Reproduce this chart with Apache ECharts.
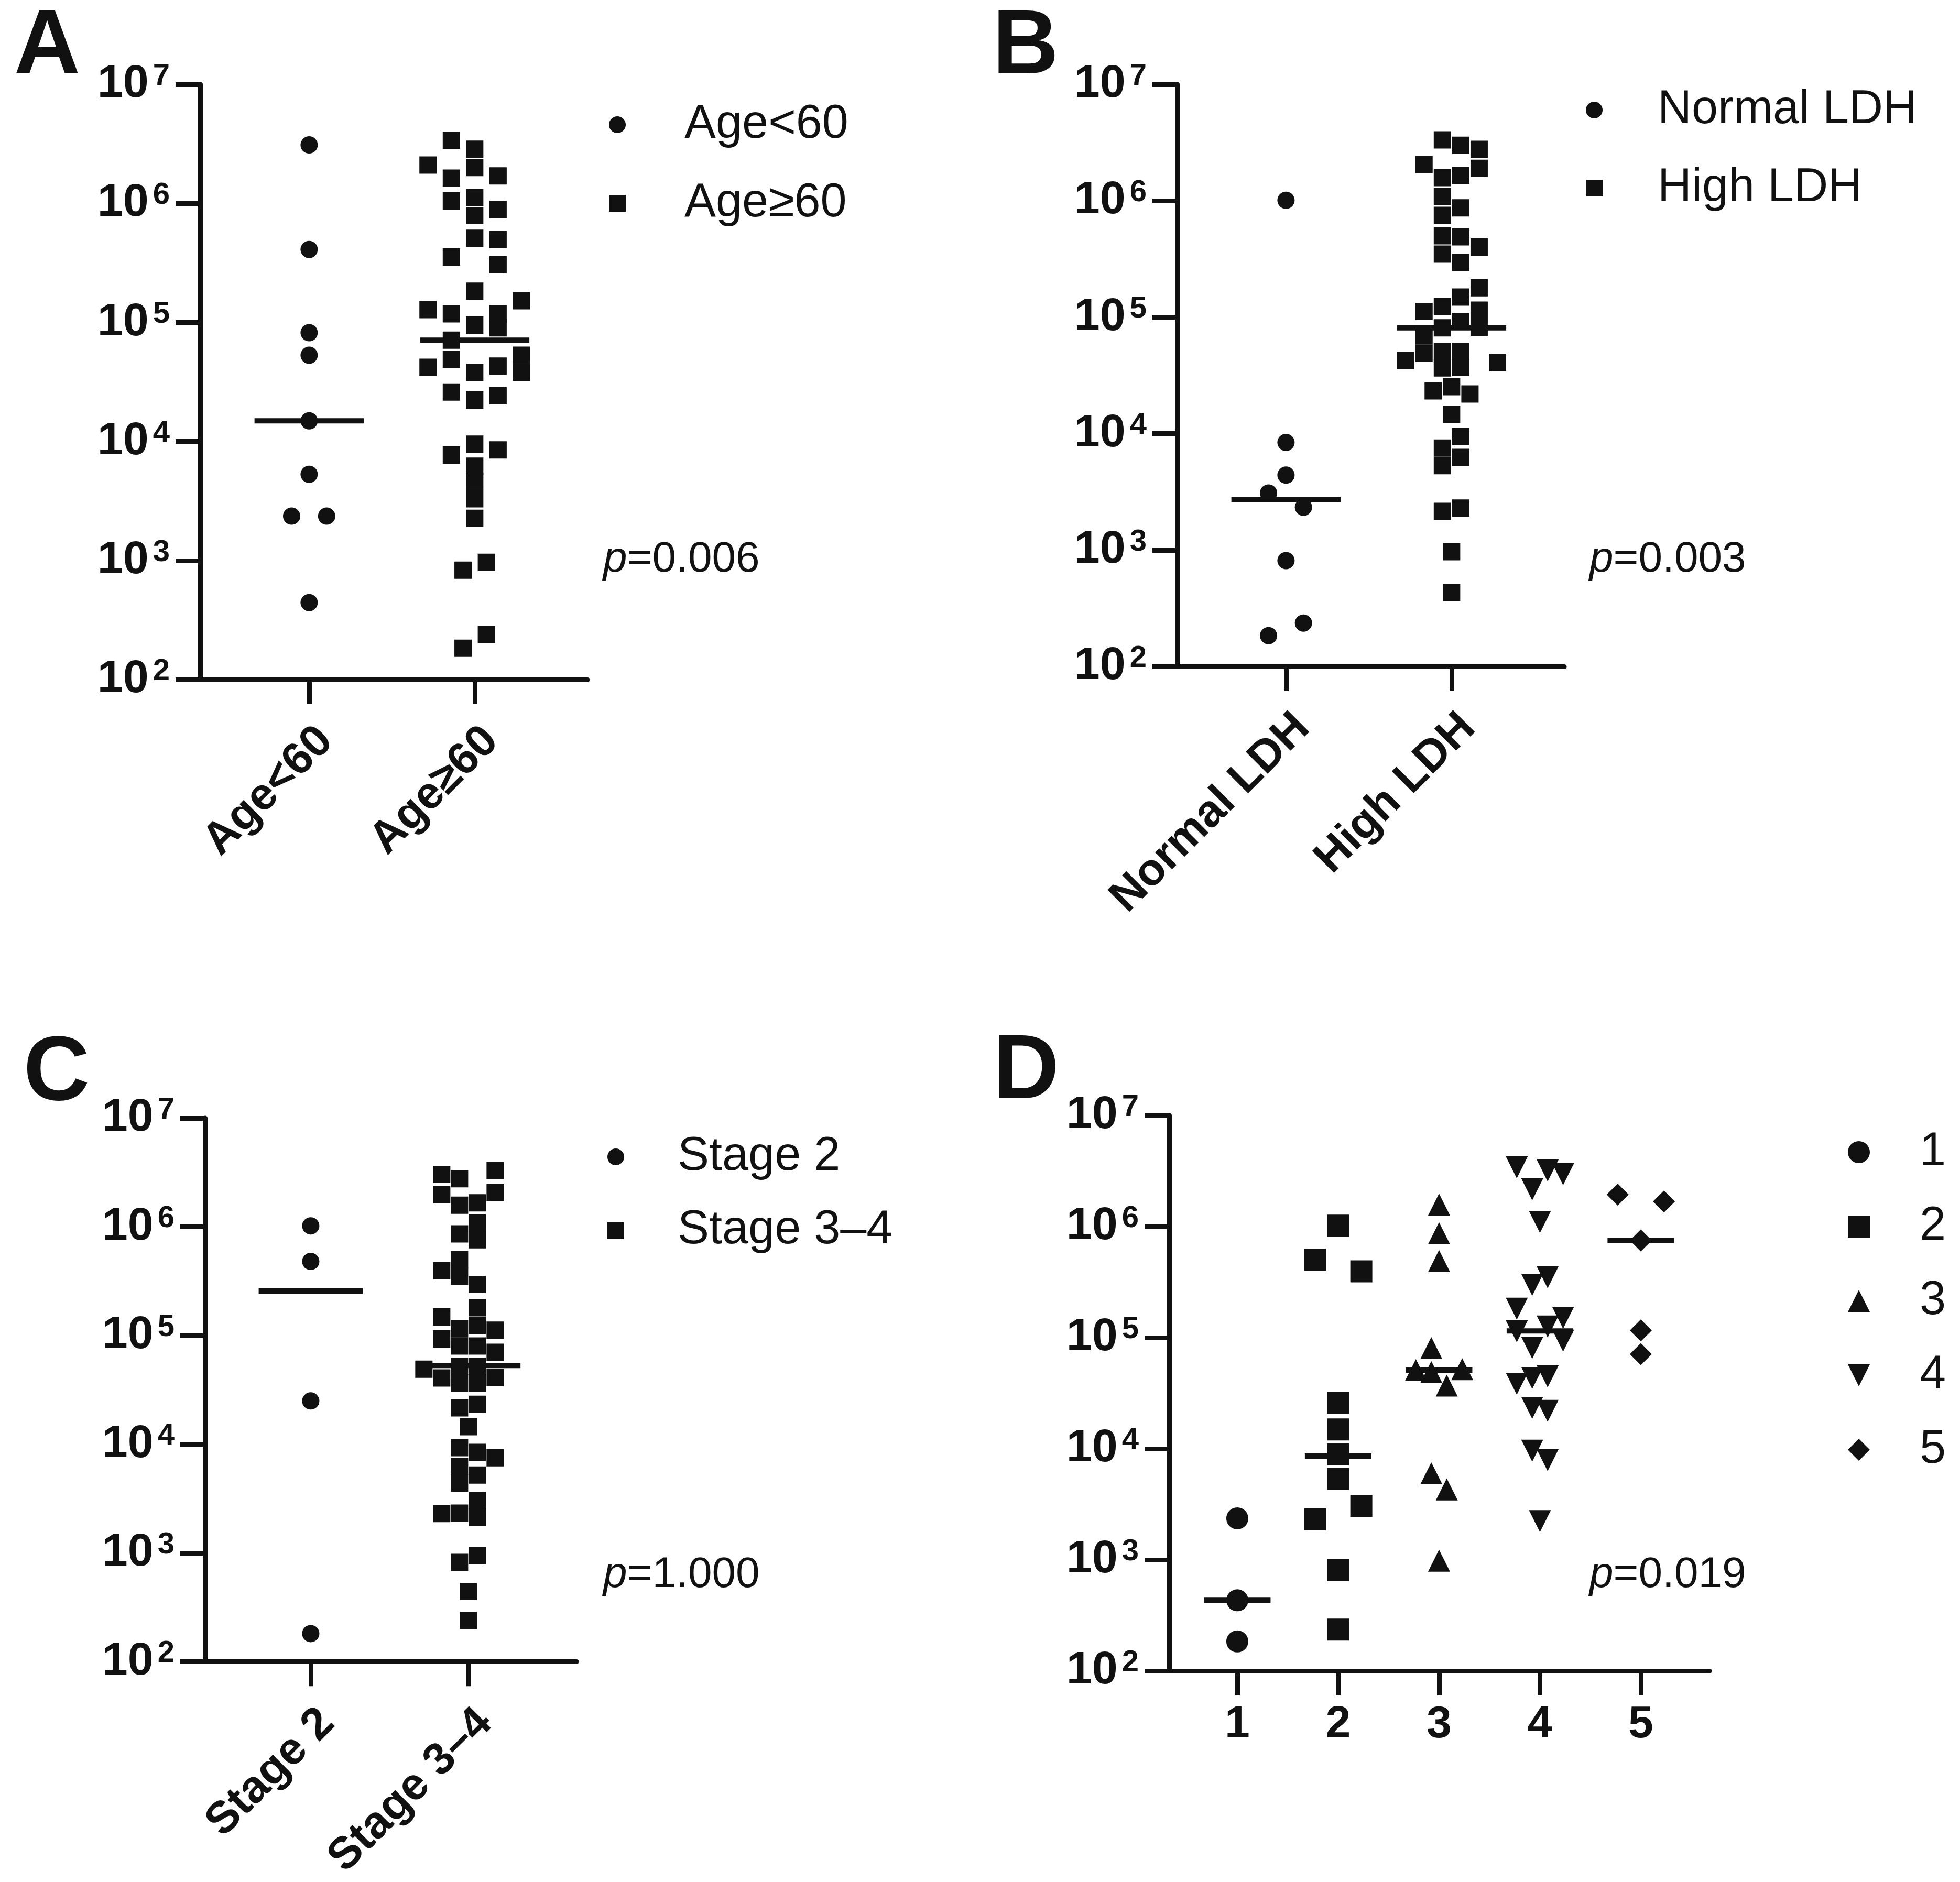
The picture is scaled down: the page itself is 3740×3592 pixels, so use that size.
<!DOCTYPE html>
<html>
<head>
<meta charset="utf-8">
<title>Scatter dot plots</title>
<script src="https://cdn.jsdelivr.net/npm/echarts@6.0.0/dist/echarts.min.js"></script>
<style>
  html, body { margin: 0; padding: 0; background: #fff; }
  #main { width: 3740px; height: 3592px; }
</style>
</head>
<body>
<div id="main"></div>
<script>
// ---- data ----
// lanes = horizontal slot of each dot inside its column (0 = centre)

// A: age
var ageCats = ['Age<60', 'Age≥60'];
var ageLowValues = [3.1e6, 4.1e5, 8.2e4, 5.3e4, 1.49e4, 5.3e3, 2.36e3, 2.36e3, 443];
var ageLowLanes  = [0, 0, 0, 0, 0, 0, -0.75, 0.75, 0];
var ageHighValues = [3.4e6, 2.85e6, 2.1e6, 2.0e6, 1.63e6, 1.7e6, 1.05e6, 1.12e6, 7.9e5, 8.9e5,
  5.1e5, 4.98e5, 3.55e5, 3.05e5, 1.83e5, 1.52e5, 1.28e5, 1.18e5, 1.18e5, 9.5e4,
  9.0e4, 7.1e4, 4.9e4, 5.3e4, 4.2e4, 4.3e4, 3.8e4, 3.8e4, 2.6e4, 2.23e4,
  2.42e4, 9.5e3, 8.5e3, 7.7e3, 6.2e3, 4.6e3, 3.3e3, 2.26e3, 966, 830, 239, 183];
var ageHighLanes = [-1, 0, -2, 0, -1, 1, -1, 0, 0, 1,
  0, 1, -1, 1, 0, 2, -2, -1, 1, 0,
  1, -1, -1, 2, -2, 1, 2, 0, -1, 0,
  1, 0, 1, -1, 0, 0, 0, 0, 0.5, -0.5, 0.5, -0.5];
var ageMedians = [1.49e4, 7.1e4];

// B: LDH
var ldhCats = ['Normal LDH', 'High LDH'];
var ldhNormalValues = [1.01e6, 8.4e3, 4.4e3, 3.09e3, 2.33e3, 811, 236, 184];
var ldhNormalLanes  = [0, 0, 0, -0.95, 0.95, 0, 0.95, -0.95];
var ldhHighValues = [3.33e6, 3.0e6, 2.77e6, 2.05e6, 1.9e6, 1.65e6, 1.58e6, 1.09e6, 8.7e5, 7.5e5,
  5.0e5, 4.9e5, 4.0e5, 3.48e5, 2.95e5, 1.79e5, 1.49e5, 1.24e5, 1.12e5, 1.15e5,
  8.2e4, 9.2e4, 8.1e4, 6.9e4, 4.9e4, 4.25e4, 4.1e4, 5.1e4, 3.67e4, 5.1e4,
  3.7e4, 2.33e4, 2.53e4, 2.19e4, 1.46e4, 9.4e3, 7.5e3, 6.25e3, 5.3e3, 2.29e3,
  2.15e3, 968, 431];
var ldhHighLanes = [-0.5, 0.5, 1.5, -1.5, 1.5, 0.5, -0.5, -0.5, 0.5, -0.5,
  -0.5, 0.5, 1.5, -0.5, 0.5, 1.5, 0.5, -0.5, -1.5, 1.5,
  1.5, 0.5, -0.5, -1.5, -1.5, -2.5, 2.5, -0.5, -0.5, 0.5,
  0.5, -1, 0, 1, 0, 0.5, -0.5, 0.5, -0.5, 0.5,
  -0.5, 0, 0];
var ldhMedians = [2.73e3, 8.1e4];

// C: stage
var stageCats = ['Stage 2', 'Stage 3–4'];
var stage2Values = [1.02e6, 4.8e5, 2.5e4, 181];
var stage2Lanes  = [0, 0, 0, 0];
var stage34Values = [3.03e6, 2.77e6, 3.3e6, 1.97e6, 2.08e6, 1.58e6, 1.66e6, 1.09e6, 8.6e5, 7.6e5,
  5.0e5, 3.95e5, 3.5e5, 2.95e5, 1.8e5, 1.48e5, 1.24e5, 1.15e5, 1.12e5, 9.3e4,
  8.0e4, 8.0e4, 7.0e4, 4.9e4, 5.2e4, 5.2e4, 4.07e4, 4.1e4, 3.66e4, 3.66e4,
  2.16e4, 2.33e4, 1.45e4, 9.3e3, 8.4e3, 7.5e3, 6.25e3, 5.2e3, 4.4e3, 3.04e3,
  2.3e3, 2.32e3, 2.13e3, 950, 817, 442, 239];
var stage34Lanes = [-1.5, -0.5, 1.5, -1.5, 1.5, -0.5, 0.5, 0.5, -0.5, 0.5,
  -0.5, -1.5, -0.5, 0.5, 0.5, -1.5, 0.5, -0.5, 1.5, -1.5,
  -0.5, 0.5, 1.5, -2.5, -0.5, 0.5, -1.5, 1.5, -0.5, 0.5,
  -0.5, 0.5, 0, -0.5, 0.5, 1.5, -0.5, 0.5, -0.5, 0.5,
  -1.5, -0.5, 0.5, 0.5, -0.5, 0, 0];
var stageMedians = [2.57e5, 5.3e4];

// D: grade 1-5
var gradeCats = ['1', '2', '3', '4', '5'];
var grade1Values = [2.36e3, 432, 184];
var grade1Lanes  = [0, 0, 0];
var grade2Values = [1.02e6, 5.05e5, 3.95e5, 2.6e4, 1.49e4, 8.9e3, 5.36e3, 3.06e3, 2.31e3, 805, 235];
var grade2Lanes  = [0, -3, 3, 0, 0, 0, 0, 3, -3, 0, 0];
var grade3Values = [1.58e6, 8.7e5, 4.9e5, 8.05e4, 5.1e4, 4.9e4, 5.2e4, 3.7e4, 6.0e3, 4.3e3, 980];
var grade3Lanes  = [0, 0, 0, -1, -3, -1, 3, 1, -1, 1, 0];
var grade4Values = [3.41e6, 3.2e6, 2.96e6, 2.16e6, 1.1e6, 3.5e5, 2.99e5, 1.82e5, 1.51e5, 1.26e5,
  1.14e5, 9.4e4, 8.1e4, 4.48e4, 4.33e4, 3.85e4, 2.33e4, 2.19e4, 9.6e3, 7.9e3, 2.23e3];
var grade4Lanes  = [-3, 1, 3, -1, 0, 1, -1, -3, 3, 1,
  -3, 3, -1, 1, -1, -3, -1, 1, -1, 1, 0];
var grade5Values = [1.94e6, 1.68e6, 7.5e5, 1.16e5, 7.1e4];
var grade5Lanes  = [-3, 3, 0, 0, 0];
var gradeMedians = [432, 8.6e3, 5.1e4, 1.15e5, 7.5e5];

var pValues = ['0.006', '0.003', '1.000', '0.019'];

// ---- styling ----
var FONT = "'Liberation Sans', Arial, Helvetica, sans-serif";
var INK = '#111111';
var AXIS_W = 9;
var TICK_LEN = 47;
var HALF_MEDIAN = 0.33;
var INV_TRIANGLE = 'path://M0,0L10,0L5,10Z';

function powLabel(v) {
  var e = Math.round(Math.log(v) / Math.LN10);
  return '{b|10}{s|' + e + '}';
}

function yAxisFor(gi) {
  return {
    type: 'log', gridIndex: gi, logBase: 10, min: 100, max: 1e7,
    axisLine: { show: true, lineStyle: { color: INK, width: AXIS_W } },
    axisTick: { show: true, length: TICK_LEN, lineStyle: { color: INK, width: AXIS_W } },
    minorTick: { show: false },
    splitLine: { show: false },
    axisLabel: {
      margin: 58,
      formatter: powLabel,
      rich: {
        b: { fontSize: 88, fontWeight: 'bold', fontFamily: FONT, color: INK, lineHeight: 88 },
        s: { fontSize: 58, fontWeight: 'bold', fontFamily: FONT, color: INK, lineHeight: 58,
             verticalAlign: 'top', padding: [0, 0, 0, 8] }
      }
    }
  };
}

function xAxisFor(gi, cats, min, max, rotate, margin, pad) {
  var ticks = cats.map(function(c, i) { return i + 1; });
  return {
    type: 'value', gridIndex: gi, min: min, max: max,
    axisLine: { show: true, onZero: false, lineStyle: { color: INK, width: AXIS_W } },
    axisTick: { show: true, customValues: ticks, length: TICK_LEN, lineStyle: { color: INK, width: AXIS_W } },
    splitLine: { show: false },
    axisLabel: {
      customValues: ticks,
      rotate: rotate,
      margin: margin,
      padding: [0, pad, 0, 0],
      fontSize: 86, fontWeight: 'bold', fontFamily: FONT, color: INK,
      formatter: function(v) { return cats[Math.round(v) - 1]; }
    }
  };
}

// one column of dots
function dots(gi, name, values, lanes, cat, laneW, symbol, size) {
  return {
    type: 'scatter', name: name, xAxisIndex: gi, yAxisIndex: gi,
    symbol: symbol, symbolSize: size,
    itemStyle: { color: INK, opacity: 1 },
    emphasis: { disabled: true },
    z: 3,
    data: values.map(function(v, i) { return [cat + lanes[i] * laneW, v]; })
  };
}

// median bar of a column
function median(gi, cat, m) {
  return {
    type: 'line', xAxisIndex: gi, yAxisIndex: gi, symbol: 'none',
    lineStyle: { color: INK, width: 10 }, z: 5, silent: true,
    data: [[cat - HALF_MEDIAN, m], [cat + HALF_MEDIAN, m]]
  };
}

function legendFor(names, left, top, size, gap, pad) {
  return {
    data: names, orient: 'vertical', left: left, top: top, padding: 0,
    itemWidth: size, itemHeight: size, itemGap: gap, selectedMode: false,
    textStyle: { fontSize: 90, fontFamily: FONT, color: INK, lineHeight: 100, padding: [0, 0, 0, pad] }
  };
}

function pText(x, y, val) {
  return {
    type: 'text', x: x, y: y,
    style: {
      text: '{i|p}{r|=' + val + '}', verticalAlign: 'middle', fill: INK,
      rich: {
        i: { fontSize: 82, fontStyle: 'italic', fontFamily: FONT, fill: INK },
        r: { fontSize: 82, fontFamily: FONT, fill: INK }
      }
    }
  };
}

function letter(x, y, t) {
  return {
    type: 'text', x: x, y: y,
    style: { text: t, fontSize: 175, fontWeight: 'bold', fontFamily: FONT, fill: INK,
             align: 'center', verticalAlign: 'middle' }
  };
}

var series = [];
// A
series.push(dots(0, ageCats[0], ageLowValues, ageLowLanes, 1, 0.141, 'circle', 33));
series.push(dots(0, ageCats[1], ageHighValues, ageHighLanes, 2, 0.141, 'rect', 33));
ageMedians.forEach(function(m, i) { series.push(median(0, i + 1, m)); });
// B
series.push(dots(1, ldhCats[0], ldhNormalValues, ldhNormalLanes, 1, 0.111, 'circle', 33));
series.push(dots(1, ldhCats[1], ldhHighValues, ldhHighLanes, 2, 0.111, 'rect', 33));
ldhMedians.forEach(function(m, i) { series.push(median(1, i + 1, m)); });
// C
series.push(dots(2, stageCats[0], stage2Values, stage2Lanes, 1, 0.113, 'circle', 33));
series.push(dots(2, stageCats[1], stage34Values, stage34Lanes, 2, 0.113, 'rect', 33));
stageMedians.forEach(function(m, i) { series.push(median(2, i + 1, m)); });
// D
series.push(dots(3, gradeCats[0], grade1Values, grade1Lanes, 1, 0.0765, 'circle', 42));
series.push(dots(3, gradeCats[1], grade2Values, grade2Lanes, 2, 0.0765, 'rect', 42));
series.push(dots(3, gradeCats[2], grade3Values, grade3Lanes, 3, 0.0765, 'triangle', 42));
series.push(dots(3, gradeCats[3], grade4Values, grade4Lanes, 4, 0.0765, INV_TRIANGLE, 42));
series.push(dots(3, gradeCats[4], grade5Values, grade5Lanes, 5, 0.0765, 'diamond', 42));
gradeMedians.forEach(function(m, i) { series.push(median(3, i + 1, m)); });

var option = {
  animation: false,
  backgroundColor: '#ffffff',
  grid: [
    { left: 382, top: 161, width: 739, height: 1136 },
    { left: 2246, top: 161, width: 739, height: 1111 },
    { left: 391, top: 2134, width: 709, height: 1069 },
    { left: 2231, top: 2129, width: 1031, height: 1060 }
  ],
  xAxis: [
    xAxisFor(0, ageCats, 0.342, 2.681, 45, 136, -45),
    xAxisFor(1, ldhCats, 0.342, 2.681, 45, 136, -45),
    xAxisFor(2, stageCats, 0.329, 2.685, 45, 136, -45),
    xAxisFor(3, gradeCats, 0.325, 5.681, 0, 60, 0)
  ],
  yAxis: [yAxisFor(0), yAxisFor(1), yAxisFor(2), yAxisFor(3)],
  legend: [
    legendFor(ageCats, 1162, 188, 32, 50, 107),
    legendFor(ldhCats, 3026, 160, 32, 49, 100),
    legendFor(stageCats, 1159, 2158, 32, 40, 97),
    legendFor(gradeCats, 3526, 2149, 42, 42, 90)
  ],
  graphic: [
    letter(90, 92, 'A'), letter(1957, 92, 'B'), letter(108, 2051, 'C'), letter(1958, 2048, 'D'),
    pText(1151, 1068, pValues[0]), pText(3033, 1068, pValues[1]),
    pText(1151, 3006, pValues[2]), pText(3033, 3006, pValues[3])
  ],
  series: series
};

var myChart = echarts.init(document.getElementById('main'), null, { renderer: 'canvas' });
myChart.setOption(option, true);
</script>
</body>
</html>
